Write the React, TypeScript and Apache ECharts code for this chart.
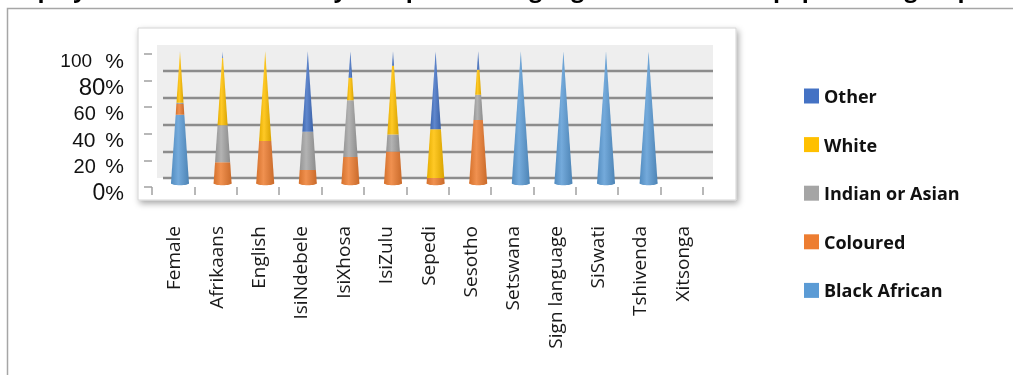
import React, { useEffect, useRef } from 'react';
import * as echarts from 'echarts';

const titleText = 'Employees with disabilities by occupation, language, skill level and population group';

const categories = [
  'Female', 'Afrikaans', 'English', 'IsiNdebele', 'IsiXhosa', 'IsiZulu', 'Sepedi',
  'Sesotho', 'Setswana', 'Sign language', 'SiSwati', 'Tshivenda', 'Xitsonga',
];

const seriesNames = ['Black African', 'Coloured', 'Indian or Asian', 'White', 'Other'];

const blackAfrican = [52, 0, 0, 0, 0, 0, 0, 0, 100, 100, 100, 100, 0];
const coloured = [8, 16, 32, 10, 20, 24, 4, 48, 0, 0, 0, 0, 0];
const indianAsian = [1, 28, 0, 29, 43, 13, 0, 19, 0, 0, 0, 0, 0];
const white = [38, 51, 68, 0, 17, 52, 37, 19, 0, 0, 0, 0, 0];
const other = [1, 5, 0, 61, 20, 11, 59, 14, 0, 0, 0, 0, 0];

const yTickLabels = ['0%', '20 %', '40 %', '60 %', '80%', '100 %'];
const legendOrder = ['Other', 'White', 'Indian or Asian', 'Coloured', 'Black African'];

const colors = ['#5B9BD5', '#ED7D31', '#A5A5A5', '#FFC000', '#4472C4'];

function mix(hex: string, target: number, t: number): string {
  const n = parseInt(hex.slice(1), 16);
  const r = (n >> 16) & 255, g = (n >> 8) & 255, b = n & 255;
  const f = (c: number) => Math.round(c + (target - c) * t);
  return `rgb(${f(r)},${f(g)},${f(b)})`;
}

export default function App() {
  const ref = useRef<HTMLDivElement>(null);

  useEffect(() => {
    if (!ref.current) return;
    const chart = echarts.init(ref.current, null, { renderer: 'svg' });
    const values = [blackAfrican, coloured, indianAsian, white, other];
    const CONE_HALF = 9;

    const series = values.map((vals, si) => {
      const data = vals.map((v, ci) => {
        let start = 0;
        for (let k = 0; k < si; k++) start += values[k][ci];
        return [ci, start, start + v];
      });
      const base = colors[si];
      const grad = new echarts.graphic.LinearGradient(0, 0, 1, 0, [
        { offset: 0, color: mix(base, 0, 0.1) },
        { offset: 0.4, color: mix(base, 255, 0.15) },
        { offset: 1, color: mix(base, 0, 0.15) },
      ]);
      return {
        type: 'custom',
        name: seriesNames[si],
        xAxisIndex: 1,
        yAxisIndex: 1,
        itemStyle: { color: base },
        encode: { x: 0, y: 2 },
        data,
        renderItem: (params: any, api: any) => {
          const cat = api.value(0);
          const s = api.value(1);
          const e = api.value(2);
          if (e <= s) return null;
          const ps = api.coord([cat, s]);
          const pe = api.coord([cat, e]);
          const cx = ps[0];
          const hs = CONE_HALF * (1 - s / 100);
          const he = CONE_HALF * (1 - e / 100);
          const children: any[] = [
            {
              type: 'polygon',
              shape: {
                points: [
                  [cx - hs, ps[1]],
                  [cx + hs, ps[1]],
                  [cx + he, pe[1]],
                  [cx - he, pe[1]],
                ],
              },
              style: { fill: grad },
            },
          ];
          if (s === 0) {
            children.push({
              type: 'ellipse',
              shape: { cx, cy: ps[1], rx: hs, ry: 2 },
              style: { fill: grad },
            });
          }
          return { type: 'group', children };
        },
      };
    });

    const rich: any = {
      l0: { fontSize: 23 },
      l1: { fontSize: 20, padding: [0, 4, 0, 0] },
      l2: { fontSize: 21, padding: [0, 4, 0, 0] },
      l3: { fontSize: 20, padding: [0, 4, 0, 0] },
      l4: { fontSize: 24 },
      l5: { fontSize: 19, padding: [0, 8, 0, 0] },
      p: { fontSize: 21 },
    };

    const option: any = {
      animation: false,
      textStyle: { fontFamily: '"Open Sans", sans-serif' },
      graphic: [
        {
          type: 'rect',
          z: -10,
          shape: { x: 7.5, y: 8.5, width: 1100, height: 500 },
          style: { fill: '#fff', stroke: '#a6a6a6', lineWidth: 1.5 },
        },
        {
          type: 'rect',
          z: -9,
          shape: { x: 138, y: 28, width: 598, height: 172 },
          style: {
            fill: '#fff',
            stroke: '#d4d4d4',
            lineWidth: 1,
            shadowBlur: 6,
            shadowOffsetX: 2,
            shadowOffsetY: 3,
            shadowColor: 'rgba(0,0,0,0.35)',
          },
        },
        {
          type: 'rect',
          z: -8,
          shape: { x: 157, y: 45, width: 556, height: 133 },
          style: { fill: '#eeeeee' },
        },
        {
          type: 'text',
          z: 10,
          x: 2,
          y: -12,
          style: {
            text: titleText,
            font: 'bold 23px "Open Sans", sans-serif',
            fill: '#000',
            align: 'left',
            verticalAlign: 'middle',
          },
        },
      ],
      legend: {
        data: legendOrder,
        orient: 'vertical',
        left: 804,
        top: 86,
        padding: 0,
        itemWidth: 15,
        itemHeight: 15,
        itemGap: 28.6,
        icon: 'rect',
        textStyle: {
          fontFamily: '"Open Sans", sans-serif',
          fontWeight: 'bold',
          fontSize: 18,
          lineHeight: 20,
          color: '#111',
        },
      },
      grid: [
        { left: 163, top: 71, width: 550, height: 107 },
        { left: 158.7, top: 51.3, width: 553.8, height: 132 },
        { left: 152, top: 54, width: 551, height: 133 },
        { left: 152, top: 60, width: 551, height: 132 },
      ],
      xAxis: [
        { type: 'category', gridIndex: 0, data: categories, show: false },
        { type: 'category', gridIndex: 1, data: categories, show: false },
        {
          type: 'category',
          gridIndex: 2,
          data: categories,
          axisLine: { show: false },
          axisTick: { show: true, length: 8, interval: 0, lineStyle: { color: '#a0a0a0', width: 1.5 } },
          axisLabel: {
            interval: 0,
            rotate: 90,
            margin: 39,
            fontSize: 19,
            color: '#1a1a1a',
            fontFamily: '"Open Sans", sans-serif',
          },
        },
        { type: 'category', gridIndex: 3, data: categories, show: false },
      ],
      yAxis: [
        {
          type: 'value', gridIndex: 0, min: 0, max: 80, interval: 20,
          axisLabel: { show: false }, axisLine: { show: false }, axisTick: { show: false },
          splitLine: { show: true, lineStyle: { color: '#8c8c8c', width: 2.3 } },
        },
        { type: 'value', gridIndex: 1, min: 0, max: 100, interval: 20, show: false },
        {
          type: 'value', gridIndex: 2, min: 0, max: 100, interval: 20,
          axisLabel: { show: false }, axisLine: { show: false },
          axisTick: { show: true, length: 8, lineStyle: { color: '#a0a0a0', width: 1.5 } },
          splitLine: { show: false },
        },
        {
          type: 'value', gridIndex: 3, min: 0, max: 100, interval: 20,
          axisLine: { show: false }, axisTick: { show: false }, splitLine: { show: false },
          axisLabel: {
            margin: 28,
            color: '#111',
            fontFamily: '"Liberation Sans", Arial, sans-serif',
            formatter: (v: number) => {
              const i = Math.round(v / 20);
              const lbl = yTickLabels[i];
              const k = lbl.indexOf('%');
              return `{l${i}|${lbl.slice(0, k)}}{p|%}`;
            },
            rich,
          },
        },
      ],
      series,
    };

    chart.setOption(option);
    return () => chart.dispose();
  }, []);

  return (
    <div
      ref={ref}
      style={{ position: 'fixed', left: 0, top: 0, width: 1013, height: 375 }}
    />
  );
}
